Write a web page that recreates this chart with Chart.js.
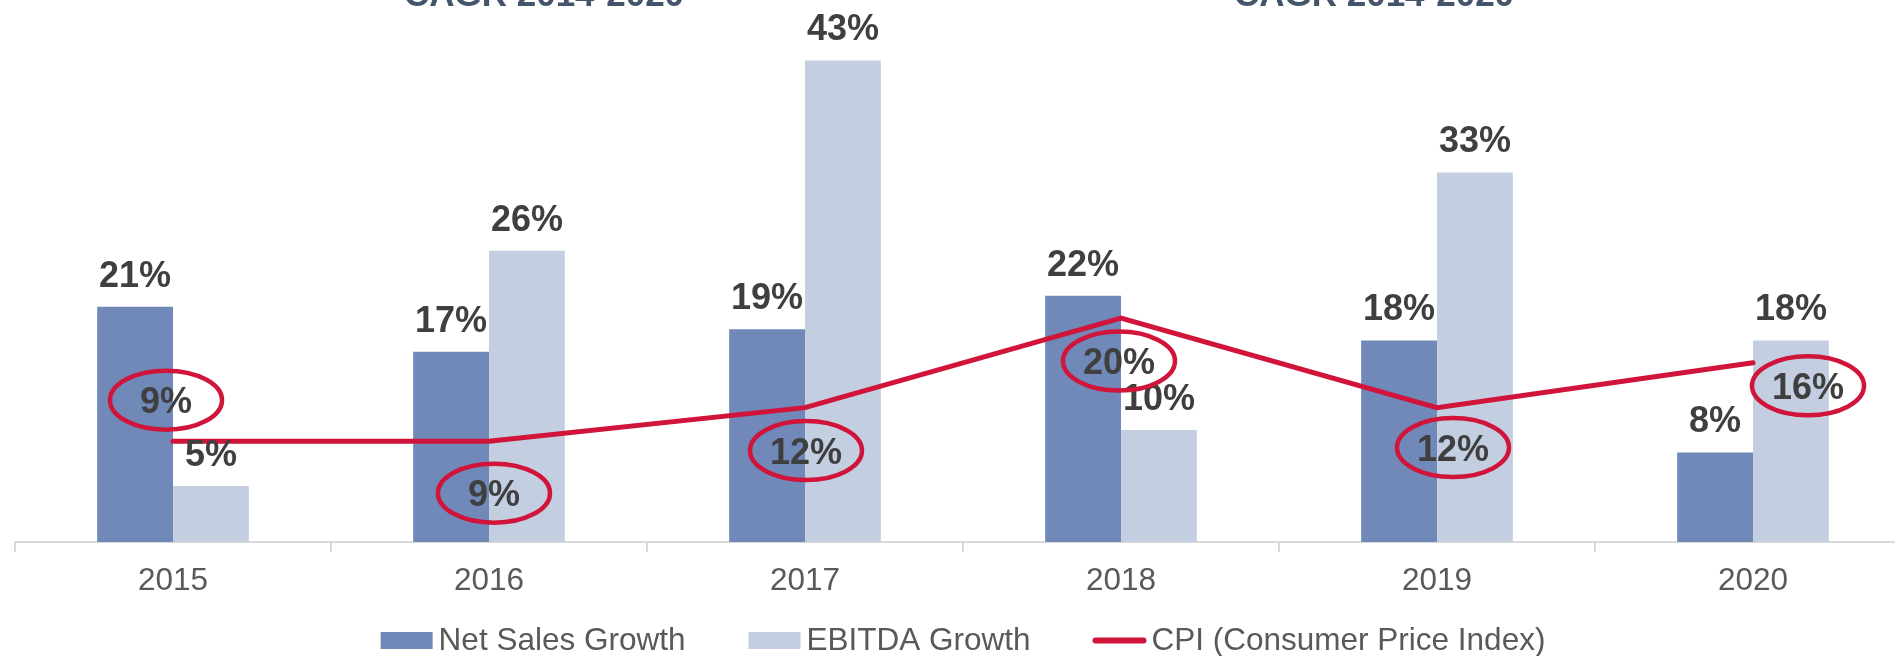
<!DOCTYPE html>
<html>
<head>
<meta charset="utf-8">
<script src="https://cdn.jsdelivr.net/npm/chart.js@4.4.1/dist/chart.umd.min.js"></script>
<style>
  html, body { margin: 0; padding: 0; background: #ffffff; width: 1895px; height: 656px; overflow: hidden; }
  #wrap { position: absolute; left: 0; top: 0; width: 1911px; height: 656px; }
  canvas { display: block; }
</style>
</head>
<body>
<div id="wrap"><canvas id="growth" width="1911" height="656"></canvas></div>
<script>
// Yearly growth figures (percent)
const years = ['2015', '2016', '2017', '2018', '2019', '2020'];
const netSalesGrowth = [21, 17, 19, 22, 18, 8];
const ebitdaGrowth = [5, 26, 43, 10, 33, 18];
const cpiValues = [9, 9, 12, 20, 12, 16];
const seriesNames = ['Net Sales Growth', 'EBITDA Growth', 'CPI (Consumer Price Index)'];
const headerLabels = ['CAGR 2014-2020', 'CAGR 2014-2020'];

const FONT = "'Liberation Sans', Arial, Helvetica, sans-serif";
const COLORS = { net: '#7089B8', ebitda: '#C3CEE1', cpi: '#D0143A', label: '#3F3F3F', axis: '#D9D9D9', tick: '#595959', header: '#44546A' };

Chart.defaults.font.family = FONT;

const pct = v => v + '%';

// Value labels above each bar
const barValueLabels = {
  id: 'barValueLabels',
  afterDatasetsDraw(chart) {
    const ctx = chart.ctx;
    ctx.save();
    ctx.font = 'bold 36px ' + FONT;
    ctx.fillStyle = COLORS.label;
    ctx.textAlign = 'center';
    ctx.textBaseline = 'alphabetic';
    chart.data.datasets.forEach((ds, i) => {
      if (ds.type === 'line') return;
      chart.getDatasetMeta(i).data.forEach((el, j) => {
        ctx.fillText(pct(ds.data[j]), el.x, el.y - 20);
      });
    });
    ctx.restore();
  }
};

// Circled CPI values next to each line point
const cpiCallouts = {
  id: 'cpiCallouts',
  afterDatasetsDraw(chart, args, opts) {
    const ctx = chart.ctx;
    const idx = chart.data.datasets.findIndex(d => d.type === 'line');
    const ds = chart.data.datasets[idx];
    ctx.save();
    chart.getDatasetMeta(idx).data.forEach((pt, j) => {
      const [dx, dy] = opts.offsets[j];
      const cx = pt.x + dx, cy = pt.y + dy;
      ctx.beginPath();
      ctx.ellipse(cx, cy, opts.rx, opts.ry, 0, 0, Math.PI * 2);
      ctx.lineWidth = 4.5;
      ctx.strokeStyle = COLORS.cpi;
      ctx.stroke();
      ctx.font = 'bold 36px ' + FONT;
      ctx.fillStyle = COLORS.label;
      ctx.textAlign = 'center';
      ctx.textBaseline = 'alphabetic';
      ctx.fillText(pct(ds.data[j]), cx, cy + 36 * 0.358);
    });
    ctx.restore();
  }
};

// Headings above the plot and the legend row below it
const decorations = {
  id: 'decorations',
  afterDraw(chart) {
    const ctx = chart.ctx;
    const area = chart.chartArea;
    ctx.save();
    ctx.font = 'bold 35px ' + FONT;
    ctx.fillStyle = COLORS.header;
    ctx.textAlign = 'center';
    ctx.textBaseline = 'alphabetic';
    ctx.fillText(headerLabels[0], 544, 6);
    ctx.fillText(headerLabels[1], 1374, 6);

    // legend
    const boxW = 52, boxH = 17, gap = 6, itemGap = 63, y = 640.5;
    ctx.font = '31.5px ' + FONT;
    const items = [
      { text: seriesNames[0], kind: 'box', color: COLORS.net },
      { text: seriesNames[1], kind: 'box', color: COLORS.ebitda },
      { text: seriesNames[2], kind: 'line', color: COLORS.cpi }
    ];
    items.forEach(it => it.w = boxW + gap + ctx.measureText(it.text).width);
    const total = items.reduce((s, it) => s + it.w, 0) + itemGap * (items.length - 1);
    let x = (area.left + area.right) / 2 - total / 2;
    ctx.textAlign = 'left';
    ctx.textBaseline = 'middle';
    items.forEach(it => {
      if (it.kind === 'box') {
        ctx.fillStyle = it.color;
        ctx.fillRect(x, y - boxH / 2, boxW, boxH);
      } else {
        ctx.beginPath();
        ctx.moveTo(x + 2, y);
        ctx.lineTo(x + boxW - 2, y);
        ctx.lineWidth = 6;
        ctx.lineCap = 'round';
        ctx.strokeStyle = it.color;
        ctx.stroke();
      }
      ctx.fillStyle = COLORS.tick;
      ctx.fillText(it.text, x + boxW + gap, y + 1);
      x += it.w + itemGap;
    });
    ctx.restore();
  }
};

new Chart(document.getElementById('growth'), {
  type: 'bar',
  data: {
    labels: years,
    datasets: [
      { label: seriesNames[0], data: netSalesGrowth, backgroundColor: COLORS.net, categoryPercentage: 0.48, barPercentage: 1.0, order: 1 },
      { label: seriesNames[1], data: ebitdaGrowth, backgroundColor: COLORS.ebitda, categoryPercentage: 0.48, barPercentage: 1.0, order: 1 },
      { type: 'line', label: seriesNames[2], data: cpiValues, borderColor: COLORS.cpi, borderWidth: 5,
        borderCapStyle: 'round', borderJoinStyle: 'miter', pointRadius: 0, tension: 0, fill: false, order: 0 }
    ]
  },
  options: {
    responsive: false,
    animation: false,
    devicePixelRatio: 1,
    layout: { padding: { left: 15, right: 0, top: 0, bottom: 0 } },
    plugins: {
      legend: { display: false },
      tooltip: { enabled: false },
      cpiCallouts: {
        rx: 56, ry: 29.5,
        offsets: [[-7, -41], [5, 52], [1, 43], [-2, 43], [16, 40], [55, 23]]
      }
    },
    scales: {
      x: {
        grid: { offset: true, drawOnChartArea: false, drawTicks: true, tickLength: 10, color: COLORS.axis, lineWidth: 2 },
        border: { display: true, color: COLORS.axis, width: 2 },
        ticks: { color: COLORS.tick, font: { size: 31.5 }, padding: 10, maxRotation: 0 },
        afterFit(scale) { scale.height = 114; }
      },
      y: { display: false, min: 0, max: 48.4 }
    }
  },
  plugins: [barValueLabels, cpiCallouts, decorations]
});
</script>
</body>
</html>
